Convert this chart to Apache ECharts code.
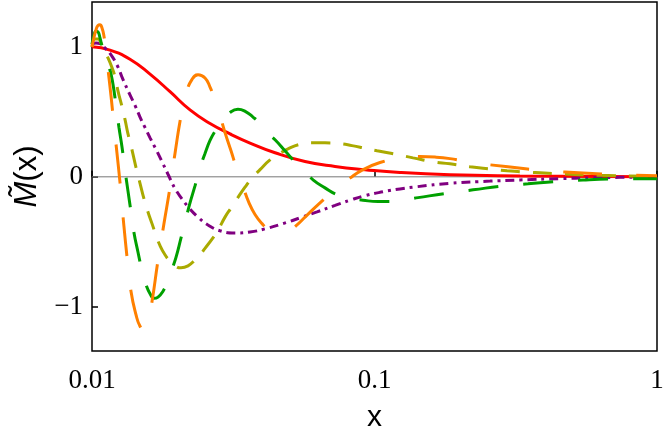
<!DOCTYPE html>
<html>
<head>
<meta charset="utf-8">
<script src="https://cdn.jsdelivr.net/npm/echarts@6/dist/echarts.min.js"></script>
<style>
html,body{margin:0;padding:0;background:#fff;}
#c{width:664px;height:436px;}
</style>
</head>
<body>
<div id="c"></div>
<script>
// ---- data ----
var xTicks = [0.01, 0.1, 1];
var yTicks = [-1, 0, 1];

var redX = [0.01,0.01158,0.01363,0.01605,0.01889,0.02223,0.02617,0.0308,0.03625,0.04445,0.05676,0.07249,0.09256,0.1231,0.185,0.3274,0.6284,1];
var redY = [1.0,0.975,0.905,0.79,0.655,0.515,0.41,0.33,0.26,0.185,0.118,0.08,0.055,0.033,0.016,0.007,0.002,0];

var purpleX = [0.01,0.01033,0.01067,0.01112,0.01158,0.01226,0.01287,0.01363,0.0142,0.01479,0.0154,0.01605,0.01699,0.01784,0.01858,0.01967,0.02083,0.02187,0.02373,0.02574,0.02839,0.03207,0.03625,0.04097,0.04745,0.05539,0.06259,0.07249,0.08192,0.09256,0.1072,0.1231,0.1414,0.185,0.2564,0.3274,0.4535,0.5792,0.7397,1];
var purpleY = [1.02,1.03,1.025,0.99,0.95,0.86,0.75,0.63,0.55,0.46,0.38,0.30,0.195,0.10,0.02,-0.09,-0.17,-0.23,-0.31,-0.37,-0.415,-0.432,-0.425,-0.40,-0.36,-0.31,-0.27,-0.22,-0.18,-0.145,-0.115,-0.093,-0.076,-0.05,-0.033,-0.024,-0.014,-0.008,-0.004,0];

var oliveX = [0.01,0.01025,0.0105,0.01076,0.01103,0.01139,0.01177,0.01206,0.01236,0.01277,0.01309,0.01341,0.01374,0.01408,0.01443,0.01479,0.01528,0.01578,0.01631,0.01685,0.01741,0.01813,0.01889,0.01967,0.02066,0.02187,0.02315,0.02412,0.02512,0.0266,0.02793,0.02957,0.03105,0.0326,0.0348,0.03685,0.03933,0.04267,0.04629,0.04943,0.05449,0.06059,0.06681,0.0755,0.08324,0.0903,0.1021,0.1211,0.1369,0.1611,0.185,0.2178,0.2564,0.2945,0.3552,0.4535,0.6284,1];
var oliveY = [1.0,1.06,1.06,1.03,0.98,0.915,0.84,0.77,0.66,0.54,0.44,0.33,0.24,0.14,0.04,-0.05,-0.17,-0.27,-0.36,-0.45,-0.53,-0.6,-0.65,-0.685,-0.70,-0.685,-0.64,-0.6,-0.55,-0.48,-0.41,-0.31,-0.24,-0.17,-0.08,-0.01,0.055,0.13,0.18,0.215,0.25,0.263,0.262,0.255,0.24,0.225,0.2,0.17,0.146,0.115,0.1,0.077,0.06,0.047,0.035,0.023,0.012,0.003];

var greenX = [0.01,0.01016,0.01033,0.0105,0.01067,0.01094,0.01121,0.01158,0.01187,0.01216,0.01246,0.01277,0.01309,0.01341,0.01374,0.01408,0.01455,0.01503,0.01553,0.01605,0.01658,0.01713,0.01784,0.01858,0.0192,0.01983,0.02066,0.02152,0.02223,0.02315,0.02412,0.02512,0.02617,0.02725,0.02886,0.0308,0.03287,0.03509,0.03715,0.03933,0.04164,0.04445,0.04822,0.05231,0.05676,0.06059,0.06681,0.07368,0.08192,0.09108,0.1029,0.1163,0.1426,0.185,0.2233,0.285,0.3494,0.4462,0.547,0.6987,1];
var greenY = [1.02,1.09,1.12,1.115,1.07,0.97,0.9,0.82,0.71,0.55,0.38,0.23,0.05,-0.11,-0.27,-0.43,-0.58,-0.72,-0.83,-0.9,-0.935,-0.925,-0.88,-0.8,-0.71,-0.62,-0.47,-0.32,-0.2,-0.07,0.07,0.18,0.28,0.35,0.43,0.495,0.52,0.5,0.46,0.41,0.34,0.285,0.2,0.115,0.04,-0.023,-0.085,-0.138,-0.165,-0.18,-0.19,-0.19,-0.16,-0.123,-0.1,-0.07,-0.054,-0.035,-0.024,-0.017,-0.015];

var orangeX = [0.01,0.01016,0.01033,0.0105,0.01067,0.01085,0.01103,0.01121,0.01139,0.01168,0.01196,0.01226,0.01256,0.01287,0.0133,0.01374,0.01431,0.01479,0.01528,0.01578,0.01631,0.01713,0.01798,0.01889,0.01967,0.02066,0.02152,0.0226,0.02373,0.02512,0.02617,0.02725,0.02839,0.02957,0.03105,0.0326,0.03424,0.03596,0.03776,0.03998,0.04198,0.04445,0.04706,0.05022,0.05317,0.05676,0.06414,0.07249,0.08192,0.09108,0.1046,0.1231,0.1449,0.1637,0.185,0.2233,0.2969,0.4079,0.547,0.7397,1];
var orangeY = [1.0,1.07,1.13,1.165,1.17,1.145,1.08,0.97,0.83,0.62,0.40,0.18,-0.04,-0.30,-0.615,-0.88,-1.06,-1.15,-1.18,-1.12,-0.96,-0.64,-0.36,-0.08,0.18,0.47,0.64,0.75,0.785,0.76,0.69,0.59,0.47,0.34,0.2,0.055,-0.075,-0.2,-0.29,-0.36,-0.40,-0.42,-0.43,-0.41,-0.37,-0.31,-0.2,-0.1,-0.01,0.055,0.11,0.145,0.156,0.152,0.14,0.11,0.077,0.047,0.03,0.016,0.008];

function pairs(xs, ys){ return xs.map(function(x,i){ return [x, ys[i]]; }); }

var chart = echarts.init(document.getElementById('c'), null, {renderer:'canvas'});

function curve(name, xs, ys, color, dash, z){
  return {
    name: name, type: 'line', data: pairs(xs, ys),
    showSymbol: false, symbol: 'none', smooth: 0.5,
    lineStyle: {color: color, width: 3, type: dash, cap: 'butt'},
    z: z, silent: true, clip: true
  };
}

chart.setOption({
  animation: false,
  backgroundColor: '#fff',
  grid: {left: 92, right: 7, top: 2, bottom: 85, outerBoundsMode: 'none', containLabel: false,
         show: true, borderColor: '#000', borderWidth: 1.5, backgroundColor: 'transparent'},
  xAxis: {
    type: 'log', logBase: 10, min: xTicks[0], max: xTicks[xTicks.length-1],
    name: 'x', nameLocation: 'middle', nameGap: 52,
    nameTextStyle: {fontFamily: 'Liberation Sans', fontSize: 30, color: '#000'},
    axisLine: {show: false},
    axisTick: {show: true, inside: true, length: 6, lineStyle: {color: '#000', width: 1.5}},
    minorTick: {show: false},
    splitLine: {show: false},
    axisLabel: {fontFamily: '"Liberation Serif", "Times New Roman", serif', fontSize: 27, color: '#000', margin: 16,
      formatter: function(v){ return String(+v.toPrecision(3)); }}
  },
  yAxis: {
    type: 'value', min: -1.34, max: 1.345,
    name: '{m|M\u0303}(x)', nameLocation: 'middle', nameGap: 44,
    nameTextStyle: {fontFamily: 'Liberation Sans', fontSize: 31, color: '#000',
      rich: {m: {fontFamily: 'Liberation Sans', fontStyle: 'italic', fontSize: 31, color: '#000'}}},
    axisLine: {show: false},
    axisTick: {show: true, inside: true, length: 6, customValues: yTicks, lineStyle: {color: '#000', width: 1.5}},
    splitLine: {show: false},
    axisLabel: {fontFamily: '"Liberation Serif", "Times New Roman", serif', fontSize: 27, color: '#000', margin: 9, customValues: yTicks,
      formatter: function(v){ return v < 0 ? '\u2212' + Math.abs(v) : String(v); }}
  },
  series: [
    {type: 'line', data: [[xTicks[0], 0], [xTicks[xTicks.length-1], 0]], showSymbol: false, symbol: 'none',
     lineStyle: {color: '#777777', width: 1}, z: 1, silent: true},
    curve('red', redX, redY, '#ff0000', 'solid', 2),
    curve('purple', purpleX, purpleY, '#800080', [9,5,3,5], 3),
    curve('olive', oliveX, oliveY, '#aaaa00', [19,13], 4),
    curve('green', greenX, greenY, '#00a000', [30,25], 5),
    curve('orange', orangeX, orangeY, '#ff8000', [39,34], 6)
  ]
});
</script>
</body>
</html>
